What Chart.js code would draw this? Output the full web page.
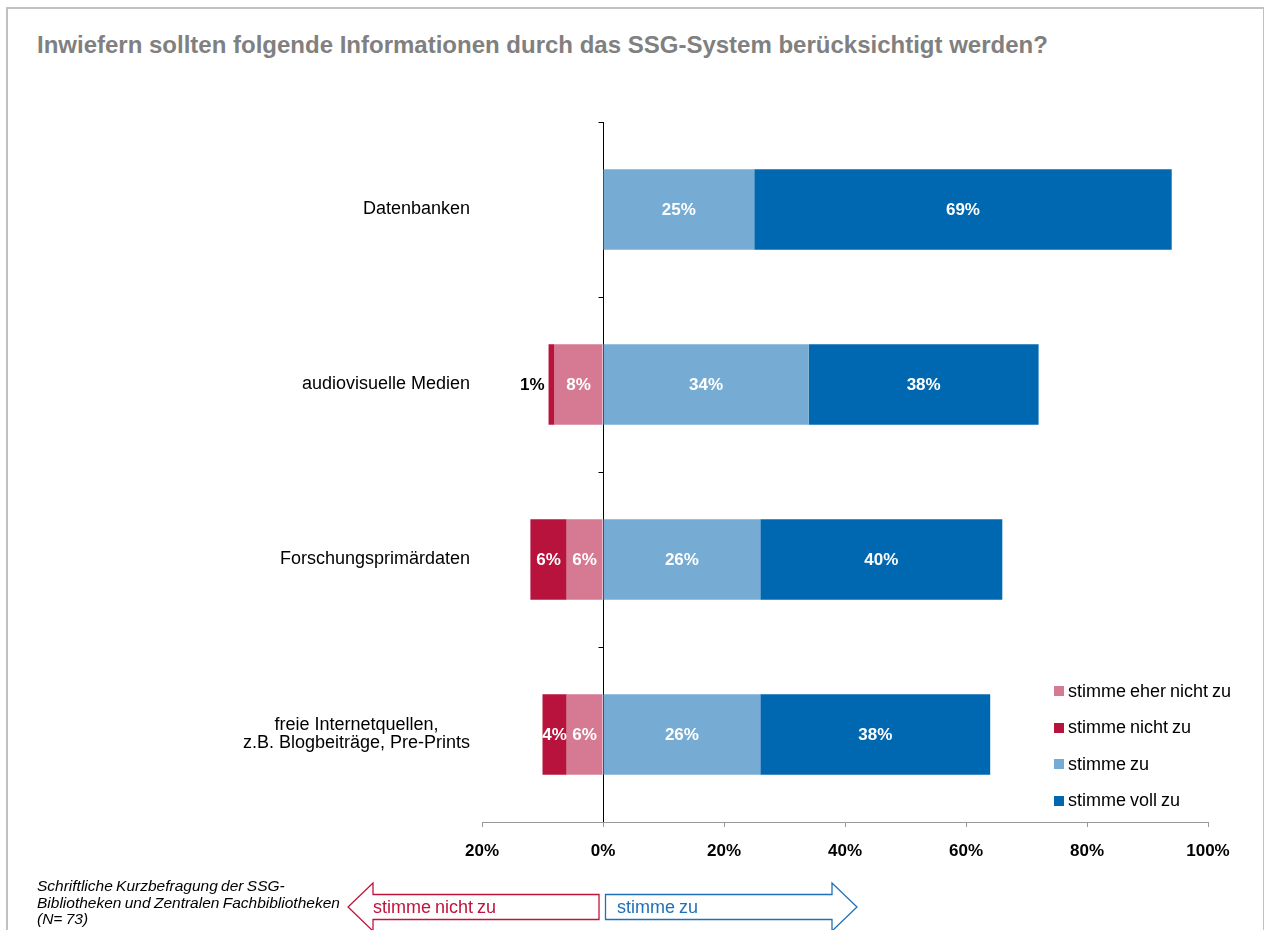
<!DOCTYPE html>
<html lang="de">
<head>
    <meta charset="UTF-8">
    <title>Inwiefern sollten folgende Informationen durch das SSG-System berücksichtigt werden?</title>
    <script src="https://cdn.jsdelivr.net/npm/chart.js"></script>
    <style>
        body {
            margin: 0;
            padding: 0;
            background: #ffffff;
            font-family: "Liberation Sans", Arial, sans-serif;
            overflow: hidden;
        }
        .page {
            position: relative;
            width: 1265px;
            height: 930px;
            overflow: hidden;
        }
        .frame {
            position: absolute;
            left: 6px;
            top: 7px;
            width: 1255px;
            height: 960px;
            border-left: 2px solid #c0c0c0;
            border-top: 2px solid #c0c0c0;
            border-right: 1px solid #c0c0c0;
        }
        h1 {
            position: absolute;
            left: 37px;
            top: 33px;
            margin: 0;
            font-size: 24px;
            line-height: 1;
            font-weight: bold;
            color: #808080;
            white-space: nowrap;
        }
        .chart-box {
            position: absolute;
            left: 0;
            top: 0;
            width: 1265px;
            height: 930px;
        }
        .legend {
            position: absolute;
            left: 1054px;
            top: 681px;
            font-size: 18px;
            color: #000;
            word-spacing: -1px;
        }
        .legend div {
            display: flex;
            align-items: center;
            height: 20px;
            margin-bottom: 16.5px;
            white-space: nowrap;
        }
        .legend span.box {
            display: inline-block;
            width: 10px;
            height: 10px;
            margin-right: 4px;
        }
        .note {
            position: absolute;
            left: 37px;
            top: 878px;
            font-size: 15.5px;
            line-height: 16.5px;
            font-style: italic;
            color: #000;
            word-spacing: -1px;
        }
        svg.arrows {
            position: absolute;
            left: 0;
            top: 860px;
        }
    </style>
</head>
<body>
<div class="page">
    <div class="frame"></div>
    <h1>Inwiefern sollten folgende Informationen durch das SSG-System berücksichtigt werden?</h1>
    <div class="chart-box"><canvas id="ssgChart"></canvas></div>
    <div class="legend" id="legend"></div>
    <div class="note">Schriftliche Kurzbefragung der SSG-<br>Bibliotheken und Zentralen Fachbibliotheken<br>(N= 73)</div>
    <svg class="arrows" width="1265" height="70">
        <polygon points="599,34.5 373,34.5 373,23 348,47 373,71 373,59.5 599,59.5" fill="#fff" stroke="#c0143c" stroke-width="1.3"/>
        <polygon points="605.5,34.5 832,34.5 832,23 857,47 832,71 832,59.5 605.5,59.5" fill="#fff" stroke="#1f70b8" stroke-width="1.3"/>
        <text x="373" y="53" font-size="18" fill="#c0143c" word-spacing="-1" font-family="Liberation Sans, Arial, sans-serif">stimme nicht zu</text>
        <text x="617" y="53" font-size="18" fill="#1f70b8" word-spacing="-1" font-family="Liberation Sans, Arial, sans-serif">stimme zu</text>
    </svg>
</div>

<script>
    // Antworten in Prozent, je Informationsart
    const categories = [
        'Datenbanken',
        'audiovisuelle Medien',
        'Forschungsprimärdaten',
        ['freie Internetquellen,', 'z.B. Blogbeiträge, Pre-Prints']
    ];
    const eherNichtZu = [0, 8, 6, 6];
    const nichtZu = [0, 1, 6, 4];
    const zu = [25, 34, 26, 26];
    const vollZu = [69, 38, 40, 38];

    const xTicks = [-20, 0, 20, 40, 60, 80, 100];

    const seriesNames = ['stimme eher nicht zu', 'stimme nicht zu', 'stimme zu', 'stimme voll zu'];
    const seriesColors = ['#d67a93', '#b8133d', '#76acd3', '#0068b1'];

    const FONT = '"Liberation Sans", Arial, sans-serif';
    Chart.defaults.font.family = FONT;
    Chart.defaults.color = '#000';

    // Ablehnung nach links (negativ), Zustimmung nach rechts
    const seriesValues = [
        eherNichtZu.map(v => -v),
        nichtZu.map(v => -v),
        zu,
        vollZu
    ];

    const datasets = seriesNames.map((name, i) => ({
        label: name,
        data: seriesValues[i],
        backgroundColor: seriesColors[i],
        borderWidth: 0,
        barPercentage: 0.46,
        categoryPercentage: 1
    }));

    // Prozentwerte in den Balken
    const valueLabels = {
        id: 'valueLabels',
        afterDatasetsDraw(chart) {
            const ctx = chart.ctx;
            ctx.save();
            ctx.font = 'bold 17px ' + FONT;
            ctx.textBaseline = 'middle';
            chart.data.datasets.forEach((ds, di) => {
                const meta = chart.getDatasetMeta(di);
                meta.data.forEach((bar, i) => {
                    const v = ds.data[i];
                    if (!v) return;
                    const p = bar.getProps(['x', 'y', 'base'], true);
                    const w = Math.abs(p.x - p.base);
                    const text = Math.abs(v) + '%';
                    if (w < 12) {
                        ctx.fillStyle = '#000';
                        ctx.textAlign = 'right';
                        ctx.fillText(text, Math.min(p.x, p.base) - 4, p.y + 1);
                    } else {
                        ctx.fillStyle = '#fff';
                        ctx.textAlign = 'center';
                        ctx.fillText(text, (p.x + p.base) / 2, p.y + 1);
                    }
                });
            });
            ctx.restore();
        }
    };

    // Kategorienamen: Block rechtsbündig, Zeilen darin zentriert
    const categoryLabels = {
        id: 'categoryLabels',
        afterDraw(chart) {
            const ctx = chart.ctx;
            const yScale = chart.scales.y;
            const right = yScale.right - 12;
            const lineH = 18;
            ctx.save();
            ctx.font = '18px ' + FONT;
            ctx.fillStyle = '#000';
            ctx.textAlign = 'center';
            ctx.textBaseline = 'middle';
            categories.forEach((label, i) => {
                const lines = Array.isArray(label) ? label : [label];
                const blockW = Math.max(...lines.map(l => ctx.measureText(l).width));
                const cx = right - blockW / 2;
                const cy = yScale.getPixelForValue(i);
                lines.forEach((line, k) => {
                    ctx.fillText(line, cx, cy + (k - (lines.length - 1) / 2) * lineH);
                });
            });
            ctx.restore();
        }
    };

    // kleine Teilstriche an der Nulllinie zwischen den Kategorien
    const zeroTicks = {
        id: 'zeroTicks',
        afterDatasetsDraw(chart) {
            const ctx = chart.ctx;
            const area = chart.chartArea;
            const x0 = Math.round(chart.scales.x.getPixelForValue(0)) + 0.5;
            const n = categories.length;
            const step = (area.bottom - area.top) / n;
            ctx.save();
            ctx.strokeStyle = '#000';
            ctx.lineWidth = 1;
            ctx.beginPath();
            for (let i = 0; i < n; i++) {
                const y = Math.round(area.top + i * step) + 0.5;
                ctx.moveTo(x0 - 5, y);
                ctx.lineTo(x0, y);
            }
            ctx.stroke();
            ctx.restore();
        }
    };

    const chart = new Chart(document.getElementById('ssgChart'), {
        type: 'bar',
        data: { labels: categories, datasets: datasets },
        options: {
            indexAxis: 'y',
            responsive: true,
            maintainAspectRatio: false,
            animation: false,
            layout: { padding: { top: 122, right: 57, left: 0, bottom: 0 } },
            plugins: {
                legend: { display: false },
                tooltip: { enabled: false }
            },
            scales: {
                x: {
                    stacked: true,
                    min: -20,
                    max: 100,
                    afterBuildTicks(scale) {
                        scale.ticks = xTicks.map(v => ({ value: v }));
                    },
                    afterFit(scale) {
                        scale.height = 108;
                    },
                    ticks: {
                        callback: v => Math.abs(v) + '%',
                        font: { size: 17, weight: 'bold' },
                        color: '#000',
                        padding: 14,
                        maxRotation: 0
                    },
                    grid: {
                        color: c => (c.tick && c.tick.value === 0) ? '#000' : 'rgba(0,0,0,0)',
                        tickColor: '#999',
                        tickLength: 5,
                        lineWidth: 1
                    },
                    border: { color: '#999', width: 1 }
                },
                y: {
                    stacked: true,
                    afterFit(scale) {
                        scale.width = 482;
                    },
                    ticks: { display: false },
                    grid: { display: false, drawTicks: false },
                    border: { display: false }
                }
            }
        },
        plugins: [valueLabels, categoryLabels, zeroTicks]
    });

    // Legende rechts unten
    const legend = document.getElementById('legend');
    seriesNames.forEach((name, i) => {
        const row = document.createElement('div');
        const box = document.createElement('span');
        box.className = 'box';
        box.style.background = seriesColors[i];
        row.appendChild(box);
        row.appendChild(document.createTextNode(name));
        legend.appendChild(row);
    });
</script>
</body>
</html>
